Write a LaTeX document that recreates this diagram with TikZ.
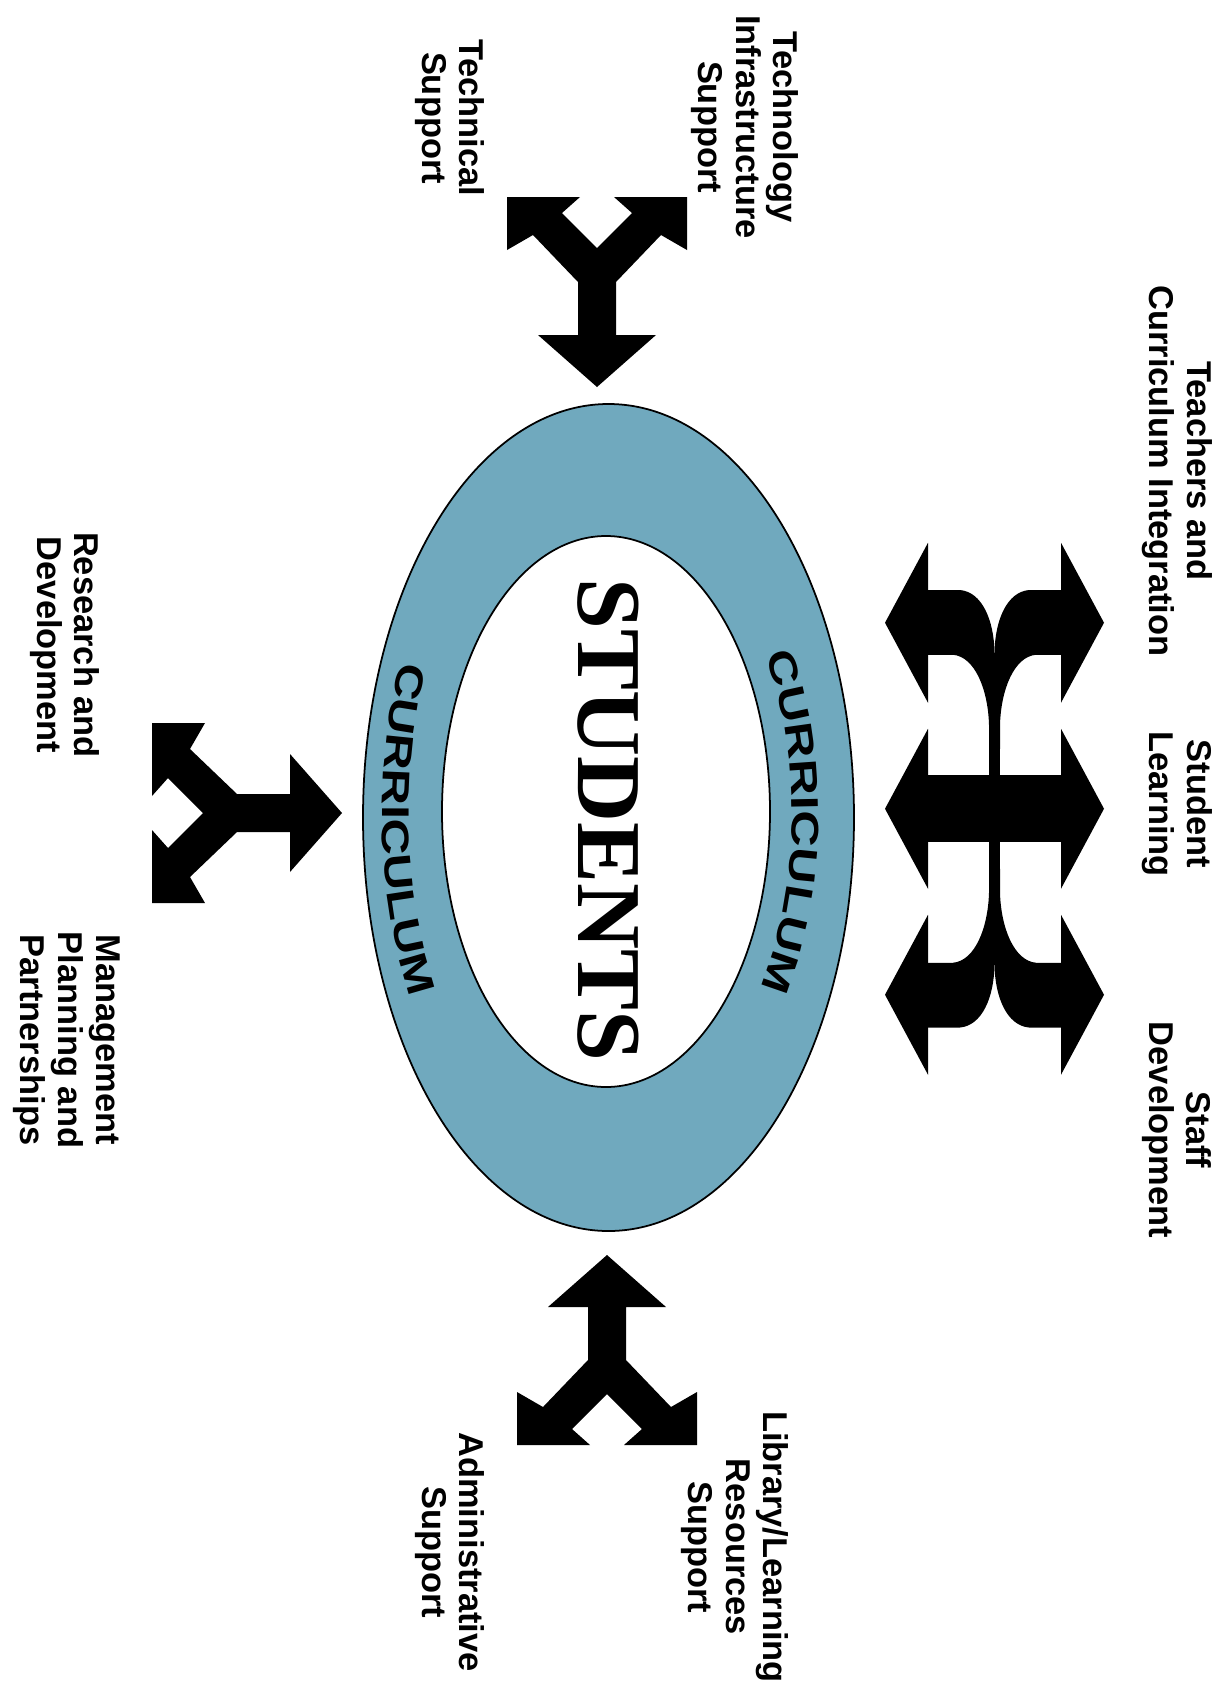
\documentclass[tikz,border=0pt]{standalone}
\usepackage{fontspec}
\setmainfont{Liberation Sans}
\newfontfamily\studfont{Liberation Serif}
\newfontfamily\curfont{Liberation Sans}[FakeStretch=1.3]
\usepackage{xcolor}
\usepackage{tikz}
\usetikzlibrary{decorations.text}

\definecolor{ringblue}{RGB}{112,169,190}

% one fork: stem tip at the origin, both arms towards +y
\newcommand{\forkshape}{%
  \fill (0,0) -- (59,52) -- (19,52) -- (19,105) -- (64,152) -- (90,137)
    -- (90,190) -- (17,190) -- (35,174) -- (0,139) -- (-35,174) -- (-17,190)
    -- (-90,190) -- (-90,137) -- (-64,152) -- (-19,105) -- (-19,52)
    -- (-59,52) -- cycle;}

\begin{document}
\begin{tikzpicture}[
x=0.02cm, y=0.02cm,
label text/.style = {rotate=-90, align=center, inner sep=0pt,
                     font=\bfseries\fontsize{19.6}{21.5}\selectfont},
ring edge/.style = {draw=black, line width=1pt}
]

\useasboundingbox (0,0) rectangle (1225,-1691);

% the ring
\filldraw[ring edge, fill=ringblue] (608.5,-817.5) ellipse [x radius=245.5, y radius=413.5];
\filldraw[ring edge, fill=white] (606,-811.5) ellipse [x radius=164, y radius=275.5];

\node (students) at (608,-820) [rotate=-90, inner sep=0pt,
  font=\studfont\bfseries\fontsize{52}{52}\selectfont] {STUDENTS};

\path[decorate, decoration={text along path, text align=center,
  text={|\curfont\bfseries\fontsize{22}{22}\selectfont|CURRICULUM}}]
  (607.5,-814) ++(58:184.5 and 309)
  arc [start angle=58, end angle=-62, x radius=184.5, y radius=309];
\path[decorate, decoration={text along path, text align=center,
  text={|\curfont\bfseries\fontsize{22}{22}\selectfont|CURRICULUM}}]
  (607.5,-814) ++(123.4:225.5 and 378)
  arc [start angle=123.4, end angle=243.4, x radius=225.5, y radius=378];

% forks
\begin{scope}[shift={(597,-387)}]
  \forkshape
\end{scope}
\begin{scope}[shift={(607,-1255)}, rotate=180]
  \forkshape
\end{scope}
\begin{scope}[shift={(342,-813)}, rotate=90]
  \forkshape
\end{scope}

% triple double arrow
\begin{scope}[shift={(994.5,-808.75)}]
  \foreach \row in {186,0,-186} {
    \fill (-66.5,\row+80) -- (-109.5,\row) -- (-66.5,\row-80) -- cycle;
    \fill (66.5,\row+80) -- (109.5,\row) -- (66.5,\row-80) -- cycle;
  }
  \fill (-66.5,-33.5) rectangle (66.5,33.5);
  \fill (-5.5,-156) rectangle (5.5,156);
  \foreach \sx in {1,-1} {
    \foreach \sy in {1,-1} {
      \fill[xscale=\sx, yscale=\sy] (-66.5,218.75) -- (-34.5,218.75)
        .. controls (-12.5,216.75) and (-0.5,188.75) .. (0,156)
        -- (0,60) -- (-5.5,60) -- (-5.5,84)
        .. controls (-6.5,119) and (-19.5,152) .. (-41.5,154)
        -- (-66.5,154) -- cycle;
    }
  }
\end{scope}

% labels
\node (techinfra) at (745,-127) [label text] {Technology\\Infrastructure\\Support};
\node (techsupport) at (450,-118) [label text] {Technical\\Support};

\node (teachers) at (1177,-471) [label text] {Teachers and\\Curriculum Integration};
\node (learning) at (1177,-804) [label text] {Student\\Learning};
\node (staffdev) at (1177,-1130) [label text] {Staff\\Development};

\node (research) at (65,-645) [label text] {Research and\\Development};
\node (management) at (67,-1040) [label text] {Management\\Planning and\\Partnerships};

\node (library) at (735,-1547) [label text] {Library/Learning\\Resources\\Support};
\node (admin) at (450,-1552) [label text] {Administrative\\Support};

\end{tikzpicture}
\end{document}
